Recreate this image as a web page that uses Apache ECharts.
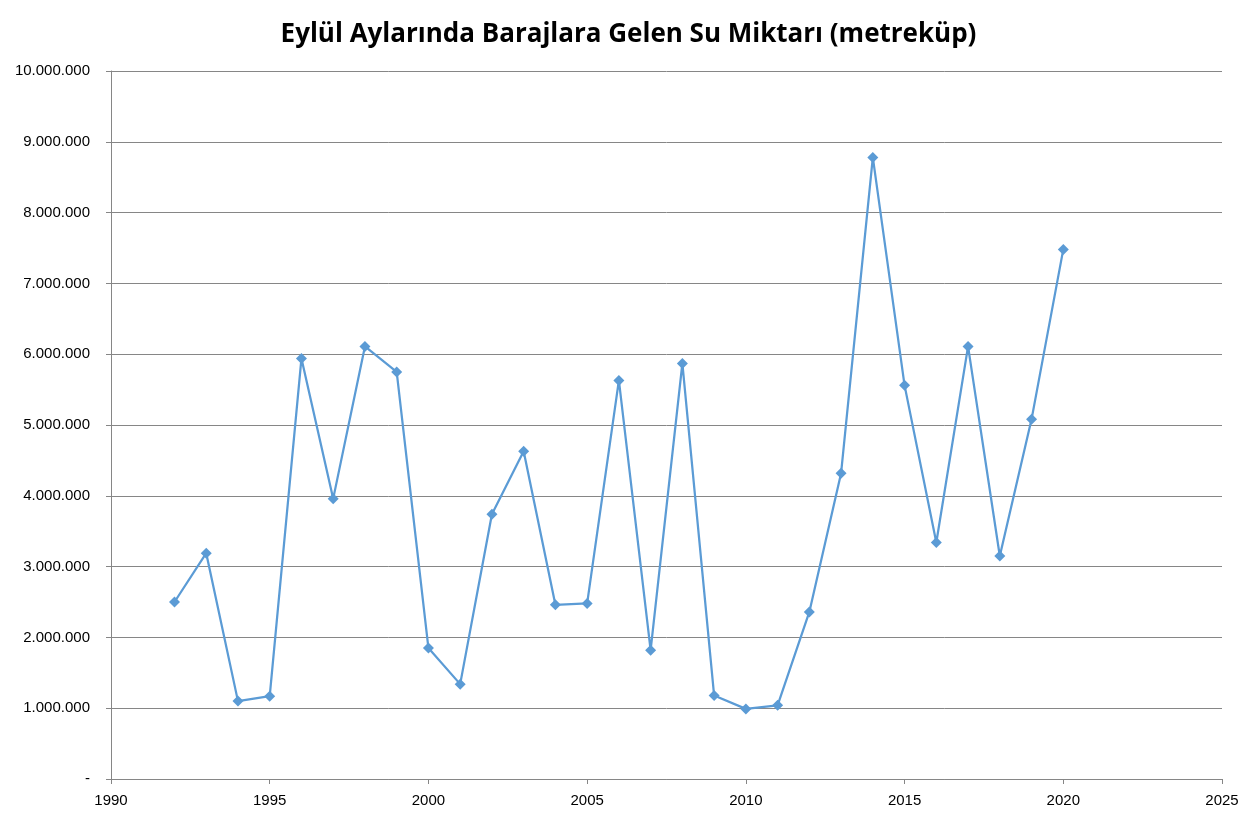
<!DOCTYPE html>
<html>
<head>
<meta charset="utf-8">
<script src="https://cdn.jsdelivr.net/npm/echarts@6/dist/echarts.min.js"></script>
<style>
  html, body { margin: 0; padding: 0; background: #fff; }
  #chart { width: 1257px; height: 820px; }
</style>
</head>
<body>
<div id="chart"></div>
<script>
// yıllar ve gelen su miktarı (metreküp)
var years = [1992, 1993, 1994, 1995, 1996, 1997, 1998, 1999, 2000, 2001,
             2002, 2003, 2004, 2005, 2006, 2007, 2008, 2009, 2010, 2011,
             2012, 2013, 2014, 2015, 2016, 2017, 2018, 2019, 2020];
var water = [2500000, 3190000, 1100000, 1170000, 5940000, 3960000, 6110000, 5750000, 1850000, 1340000,
             3740000, 4630000, 2460000, 2480000, 5630000, 1820000, 5870000, 1180000, 990000, 1040000,
             2360000, 4320000, 8780000, 5560000, 3340000, 6110000, 3150000, 5080000, 7480000];

var titleText = 'Eylül Aylarında Barajlara Gelen Su Miktarı (metreküp)';

var points = years.map(function (y, i) { return [y, water[i]]; });

function fmtNum(v) {
  if (v === 0) return '-';
  return String(v).replace(/\B(?=(\d{3})+(?!\d))/g, '.');
}

var chart = echarts.init(document.getElementById('chart'));

var option = {
  backgroundColor: '#fff',
  animation: false,
  title: {
    text: titleText,
    left: 'center',
    top: 17,
    textStyle: {
      fontFamily: 'Open Sans',
      fontSize: 26,
      fontWeight: 'bold',
      color: '#000'
    }
  },
  grid: { left: 111, right: 35, top: 71, bottom: 41 },
  xAxis: {
    type: 'value',
    min: 1990,
    max: 2025,
    interval: 5,
    axisLine: { show: true, onZero: false, lineStyle: { color: '#868686', width: 1 } },
    axisTick: { show: true, inside: false, length: 5, lineStyle: { color: '#868686' } },
    splitLine: { show: false },
    axisLabel: {
      color: '#000',
      fontFamily: 'Liberation Sans',
      fontSize: 15,
      margin: 14,
      formatter: function (v) { return String(v); }
    }
  },
  yAxis: {
    type: 'value',
    min: 0,
    max: 10000000,
    interval: 1000000,
    axisLine: { show: true, lineStyle: { color: '#868686', width: 1 } },
    axisTick: { show: true, length: 5, lineStyle: { color: '#868686' } },
    splitLine: { show: true, lineStyle: { color: '#868686', width: 1 } },
    axisLabel: {
      color: '#000',
      fontFamily: 'Liberation Sans',
      fontSize: 15,
      margin: 21,
      formatter: fmtNum
    }
  },
  series: [{
    type: 'line',
    data: points,
    symbol: 'diamond',
    symbolSize: 11,
    lineStyle: { color: '#5B9BD5', width: 2.25 },
    itemStyle: { color: '#5B9BD5' }
  }]
};

chart.setOption(option);
</script>
</body>
</html>
